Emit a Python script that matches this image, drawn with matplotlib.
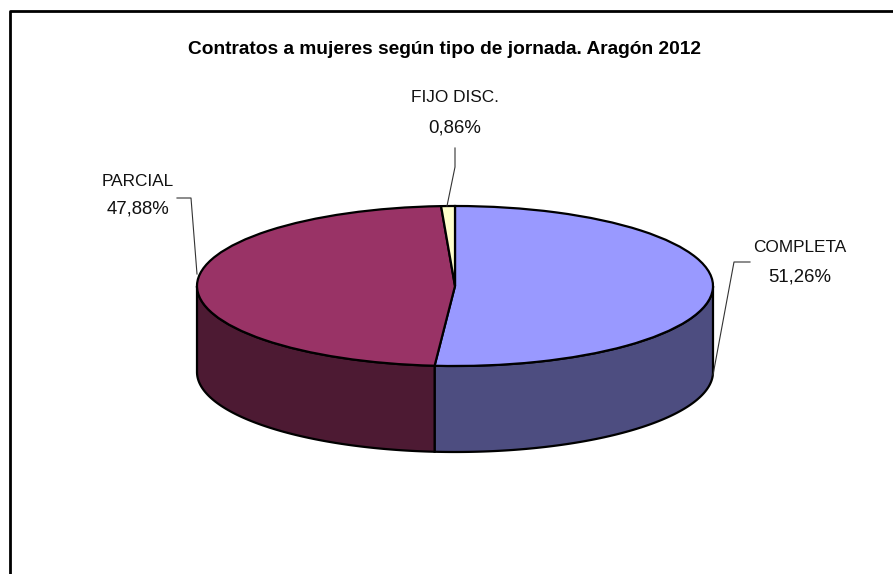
# -*- coding: utf-8 -*-
import numpy as np
import matplotlib
matplotlib.use('Agg')
import matplotlib.pyplot as plt

labels = ['COMPLETA', 'PARCIAL', 'FIJO DISC.']
shares = [51.26, 47.88, 0.86]
top_colors = ['#9999FF', '#993366', '#FFFFCC']
side_colors = ['#4D4D80', '#4D1A33', '#80805F']
title = 'Contratos a mujeres según tipo de jornada. Aragón 2012'

W, H = 893, 574
CX, CY, RX, RY = 455, 286, 258, 80
DEPTH = 86 / RY

plt.rcParams['font.family'] = ['Liberation Sans', 'DejaVu Sans']
fig = plt.figure(figsize=(W / 100, H / 100), dpi=100)
ax = fig.add_axes([0, 0, 1, 1])

# pie first, then squash the axes so the circle turns into the ellipse
wedges, _ = ax.pie(shares, colors=top_colors, startangle=90, counterclock=False,
                   wedgeprops={'edgecolor': 'black', 'linewidth': 1.6, 'zorder': 5})
ax.set_aspect('auto')
ax.set_xlim(-CX / RX, (W - CX) / RX)
ax.set_ylim((CY - H) / RY, CY / RY)
ax.axis('off')


def px(x, y):
    return (x - CX) / RX, (CY - y) / RY


# side wall, only the front half of the ring can be seen
edges = np.concatenate([[0], np.cumsum(shares)]) * 3.6
for i in range(len(shares)):
    a = max(edges[i], 90)
    b = min(edges[i + 1], 270)
    if b <= a:
        continue
    t = np.radians(np.linspace(a, b, 120))
    xs = np.sin(t)
    ys = np.cos(t)
    ax.fill(np.r_[xs, xs[::-1]], np.r_[ys, ys[::-1] - DEPTH],
            facecolor=side_colors[i], edgecolor='black', linewidth=1.6, zorder=3)

# chart frame, only top and left edges are inside the picture
frame = np.array([(9.5 / W, 0), (9.5 / W, 1 - 11 / H), (1, 1 - 11 / H)])
ax.plot(frame[:, 0], frame[:, 1], transform=ax.transAxes, color='black',
        linewidth=2, clip_on=False, zorder=1)

ax.text(*px(445, 50), title, fontsize=13.8, fontweight='bold', ha='center', va='center', zorder=6)

txt = dict(ha='center', va='center', color='#111111', zorder=6)
label_pos = [(800, 247), (138, 181), (455, 98)]
value_pos = [(800, 277), (138, 209), (455, 128)]
for lab, val, p, q in zip(labels, shares, label_pos, value_pos):
    ax.text(*px(*p), lab, fontsize=12.4, **txt)
    ax.text(*px(*q), f'{val:.2f}%'.replace('.', ','), fontsize=13.4, **txt)

# leader lines
leaders = [
    [(750, 262), (734, 262), (713, 375)],
    [(177, 198), (191, 198), (197, 274)],
    [(455, 148), (455, 167), (447, 206)],
]
for pts in leaders:
    xy = np.array([px(*p) for p in pts])
    ax.plot(xy[:, 0], xy[:, 1], color='#333333', linewidth=0.8, zorder=6)

fig.savefig('out.png', dpi=100)
plt.close()
